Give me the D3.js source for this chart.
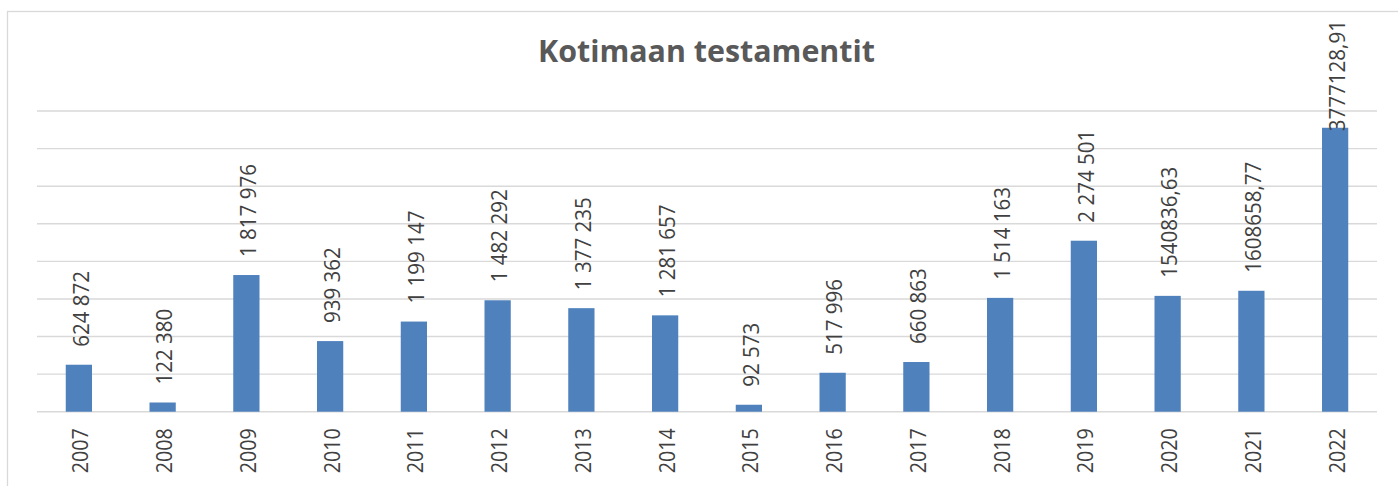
<!DOCTYPE html>
<html>
<head>
<meta charset="utf-8">
<script src="https://cdn.jsdelivr.net/npm/d3@7"></script>
<style>
  html, body { margin: 0; padding: 0; background: #fff; }
  svg { display: block; }
</style>
</head>
<body>
<svg id="chart" width="1398" height="486"></svg>
<script>
const title = "Kotimaan testamentit";
const years = ["2007","2008","2009","2010","2011","2012","2013","2014","2015","2016","2017","2018","2019","2020","2021","2022"];
const values = [624872, 122380, 1817976, 939362, 1199147, 1482292, 1377235, 1281657, 92573, 517996, 660863, 1514163, 2274501, 1540836.63, 1608658.77, 3777128.91];
const valueLabels = ["624 872","122 380","1 817 976","939 362","1 199 147","1 482 292","1 377 235","1 281 657","92 573","517 996","660 863","1 514 163","2 274 501","1540836,63","1608658,77","3777128,91"];
const yTicks = [0, 500000, 1000000, 1500000, 2000000, 2500000, 3000000, 3500000, 4000000];

const svg = d3.select("#chart");
const W = 1398, H = 486;
const plot = { left: 37, right: 1377, top: 111, bottom: 411.7 };
const FONT = "'Open Sans', 'Liberation Sans', sans-serif";

// chart area border
svg.append("rect")
  .attr("x", 7.5).attr("y", 11.5)
  .attr("width", W + 10).attr("height", H + 10)
  .attr("fill", "#fff").attr("stroke", "#d9d9d9").attr("stroke-width", 1.3);

const x = d3.scaleBand().domain(years).range([plot.left, plot.right]).paddingInner(0).paddingOuter(0);
const y = d3.scaleLinear().domain([0, 4000000]).range([plot.bottom, plot.top]);
const barW = x.step() / 3.19;

// gridlines
svg.append("g").selectAll("line").data(yTicks).join("line")
  .attr("x1", plot.left).attr("x2", plot.right)
  .attr("y1", d => y(d)).attr("y2", d => y(d))
  .attr("stroke", "#d9d9d9").attr("stroke-width", 1.4);

// measure text length at a given size
function measure(text, size, weight) {
  const t = svg.append("text").attr("font-family", FONT).attr("font-size", size)
    .attr("font-weight", weight || "normal").text(text);
  const len = t.node().getComputedTextLength();
  t.remove();
  return len;
}

// title
const titleSize = 100 * 337 / measure(title, 100, "bold");
svg.append("text")
  .attr("x", 706.5).attr("y", 62)
  .attr("text-anchor", "middle")
  .attr("font-family", FONT).attr("font-weight", "bold")
  .attr("font-size", titleSize)
  .attr("fill", "#595959")
  .text(title);

// bars
svg.append("g").selectAll("rect").data(values).join("rect")
  .attr("x", (d, i) => x(years[i]) + x.bandwidth() / 2 - barW / 2)
  .attr("y", d => y(d))
  .attr("width", barW)
  .attr("height", d => y(0) - y(d))
  .attr("fill", "#4f81bd");

// text sizing: glyph height ~16px, narrow like Calibri
const TXT = 22;
const labScale = 93 / measure("1 199 147", TXT);
const yrScale = 45 / measure("2007", TXT);

// value labels
const labG = svg.append("g");
values.forEach((v, i) => {
  const cx = x(years[i]) + x.bandwidth() / 2 + 1;
  const t = labG.append("text")
    .attr("font-family", FONT).attr("font-size", TXT)
    .attr("fill", "#404040")
    .attr("text-anchor", "start")
    .attr("dominant-baseline", "central")
    .text(valueLabels[i]);
  const len = t.node().getComputedTextLength() * labScale;
  let sy = y(v) - 18;
  if (sy - len < 20) sy = 20 + len;
  t.attr("transform", `translate(${cx},${sy}) rotate(-90) scale(${labScale},1)`);
});

// x axis labels
svg.append("g").selectAll("text").data(years).join("text")
  .attr("font-family", FONT).attr("font-size", TXT)
  .attr("fill", "#404040")
  .attr("text-anchor", "end")
  .attr("dominant-baseline", "central")
  .attr("transform", d => `translate(${x(d) + x.bandwidth() / 2 + 1},${plot.bottom + 16.5}) rotate(-90) scale(${yrScale},1)`)
  .text(d => d);
</script>
</body>
</html>
